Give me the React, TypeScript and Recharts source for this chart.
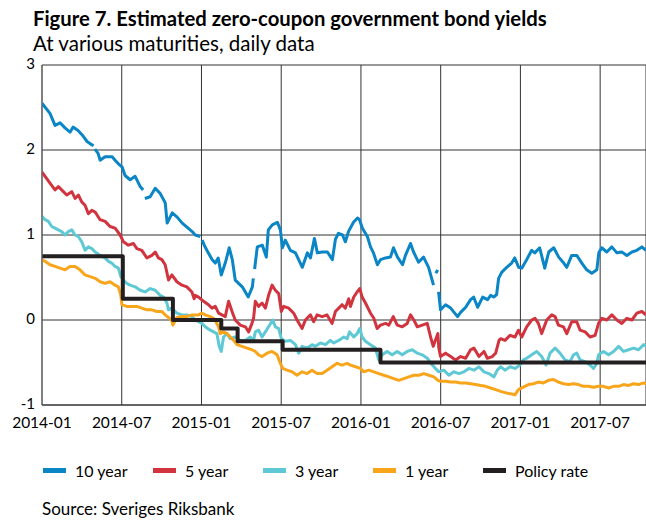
import React from 'react';
import { LineChart, Line, XAxis, YAxis, CartesianGrid } from 'recharts';

// x = months since 2014-01, y = per cent
const tickMonths = [0, 6, 12, 18, 24, 30, 36, 42];
const tickLabels = ['2014-01', '2014-07', '2015-01', '2015-07', '2016-01', '2016-07', '2017-01', '2017-07'];
const yTicks = [-1, 0, 1, 2, 3];

const tenYear: [number, number | null][] = [
  [0, 2.55], [0.6, 2.43], [0.98, 2.29], [1.36, 2.32], [1.73, 2.26], [2.11, 2.21], [2.34, 2.27], [2.71, 2.23], [3.01, 2.18], [3.39, 2.1], [3.77, 2.06], [3.88, 2.05], [3.92, null],
  [3.98, 2.01], [4.22, 1.96], [4.37, 1.88], [4.75, 1.92], [5.28, 1.92], [5.5, 1.88], [5.73, 1.84], [6.03, 1.8], [6.25, 1.7], [6.63, 1.65], [7.01, 1.69], [7.39, 1.57], [7.61, 1.53], [7.68, null],
  [7.74, 1.43], [8.14, 1.45], [8.52, 1.55], [8.89, 1.49], [9.27, 1.38], [9.42, 1.14], [9.8, 1.26], [10.17, 1.21], [10.55, 1.14], [10.93, 1.09], [11.3, 1.04], [11.53, 1.0], [11.91, 0.98], [11.98, null],
  [12.05, 0.94], [12.21, 0.88], [12.51, 0.79], [12.81, 0.71], [13.04, 0.67], [13.26, 0.73], [13.49, 0.53], [13.79, 0.67], [14.09, 0.85], [14.32, 0.71], [14.54, 0.47], [15.07, 0.39], [15.52, 0.27], [15.83, 0.39], [15.9, 0.49], [15.95, null],
  [16.0, 0.6], [16.2, 0.86], [16.58, 0.88], [16.88, 0.74], [17.03, 1.06], [17.33, 1.12], [17.71, 1.15], [17.94, 1.06], [18.09, 0.85], [18.31, 0.94], [18.69, 0.82], [19.07, 0.79], [19.59, 0.62], [19.97, 0.79], [20.2, 0.73], [20.5, 0.96], [20.72, 0.79], [21.1, 0.8], [21.48, 0.8], [21.85, 0.71], [22.08, 0.95], [22.31, 1.02], [22.61, 1.0], [22.83, 0.92], [23.06, 1.04], [23.44, 1.15], [23.74, 1.2], [23.89, 1.18],
  [24.11, 1.08], [24.49, 0.98], [24.72, 0.86], [24.94, 0.79], [25.24, 0.65], [25.47, 0.71], [25.85, 0.73], [26.22, 0.74], [26.45, 0.85], [26.75, 0.74], [27.13, 0.65], [27.35, 0.76], [27.73, 0.9], [27.96, 0.8], [28.33, 0.68], [28.71, 0.74], [29.09, 0.62], [29.39, 0.45], [29.46, 0.41], [29.55, null],
  [29.64, 0.55], [29.77, 0.59], [29.8, null],
  [29.84, 0.33], [29.99, 0.12], [30.37, 0.18], [30.75, 0.14], [31.27, 0.04], [31.5, 0.09], [31.88, 0.15], [32.25, 0.24], [32.48, 0.27], [32.78, 0.15], [33.16, 0.27], [33.53, 0.24], [33.76, 0.29], [33.99, 0.27], [34.21, 0.3], [34.36, 0.49], [34.59, 0.56], [34.97, 0.62], [35.34, 0.67], [35.57, 0.73], [35.87, 0.62],
  [36.1, 0.61], [36.47, 0.71], [36.85, 0.82], [37.08, 0.79], [37.45, 0.85], [37.83, 0.61], [38.13, 0.8], [38.51, 0.85], [38.88, 0.74], [39.26, 0.67], [39.49, 0.62], [39.86, 0.76], [40.24, 0.76], [40.62, 0.67], [40.99, 0.59], [41.37, 0.55], [41.75, 0.59], [41.9, 0.79],
  [42.12, 0.85], [42.5, 0.8], [42.88, 0.86], [43.26, 0.79], [43.63, 0.8], [44.01, 0.76], [44.39, 0.8], [44.76, 0.82], [45.14, 0.86], [45.44, 0.82],
];

const fiveYear: [number, number][] = [
  [0, 1.74], [0.23, 1.69], [0.6, 1.61], [0.98, 1.53], [1.23, 1.57], [1.61, 1.51], [1.86, 1.47], [2.24, 1.51], [2.49, 1.43], [2.74, 1.47], [2.99, 1.39], [3.24, 1.35], [3.49, 1.25], [3.75, 1.29], [4.0, 1.27], [4.37, 1.18], [4.75, 1.16], [5.12, 1.1], [5.5, 1.08], [5.88, 1.0],
  [6.13, 0.92], [6.5, 0.88], [6.88, 0.9], [7.14, 0.84], [7.51, 0.82], [7.89, 0.73], [8.27, 0.76], [8.52, 0.8], [8.76, 0.73], [9.02, 0.71], [9.27, 0.65], [9.52, 0.47], [9.77, 0.53], [10.15, 0.45], [10.53, 0.41], [10.9, 0.39], [11.28, 0.33], [11.45, 0.25],
  [11.53, 0.29], [11.78, 0.27], [12.16, 0.22], [12.53, 0.18], [12.79, 0.14], [13.04, 0.16], [13.29, 0.08], [13.54, 0.06], [13.79, 0.04], [14.04, 0.22], [14.3, 0.1], [14.54, 0], [14.92, -0.06], [15.3, -0.08], [15.55, -0.14], [15.8, -0.04], [15.92, 0.02], [16.05, 0.22], [16.3, 0.16], [16.56, 0.2], [16.81, 0.14], [17.05, 0.29], [17.31, 0.41], [17.56, 0.35], [17.81, 0.31],
  [18.01, 0.1], [18.18, 0.16], [18.56, 0.14], [18.94, 0.08], [19.19, 0], [19.57, -0.1], [19.82, 0], [20.2, 0.06], [20.44, -0.02], [20.7, 0.06], [21.08, 0.04], [21.45, 0.06], [21.83, -0.04], [22.08, 0.1], [22.33, 0.14], [22.58, 0.18], [22.83, 0.14], [23.08, 0.25], [23.21, 0.16], [23.46, 0.27], [23.71, 0.33], [23.91, 0.37],
  [24.09, 0.27], [24.34, 0.2], [24.72, 0.08], [24.97, 0.02], [25.22, -0.1], [25.47, -0.06], [25.85, -0.04], [26.1, -0.06], [26.43, 0.04], [26.73, -0.06], [27.11, -0.08], [27.48, -0.04], [27.73, 0.06], [27.98, 0], [28.24, -0.08], [28.61, -0.06], [28.99, -0.04], [29.24, -0.2], [29.44, -0.31], [29.69, -0.2], [29.79, -0.16],
  [29.86, -0.33], [29.99, -0.43], [30.37, -0.39], [30.75, -0.43], [31.12, -0.47], [31.5, -0.43], [31.88, -0.45], [32.25, -0.35], [32.5, -0.33], [32.88, -0.43], [33.26, -0.37], [33.51, -0.45], [33.89, -0.43], [34.14, -0.39], [34.39, -0.24], [34.51, -0.22], [34.84, -0.24], [35.22, -0.18], [35.59, -0.2], [35.85, -0.12],
  [36.1, -0.2], [36.47, -0.08], [36.85, 0], [37.1, 0.02], [37.35, -0.04], [37.6, -0.16], [37.98, 0], [38.36, 0.06], [38.61, 0.04], [38.86, -0.06], [39.24, -0.08], [39.49, -0.16], [39.86, -0.02], [40.24, -0.02], [40.49, -0.12], [40.87, -0.14], [41.24, -0.2], [41.62, -0.18], [41.88, -0.04],
  [42.13, 0.02], [42.5, 0], [42.88, 0.06], [43.26, 0], [43.63, -0.04], [44.01, 0.02], [44.39, 0], [44.76, 0.08], [45.14, 0.1], [45.44, 0.06],
];

const threeYear: [number, number][] = [
  [0, 1.22], [0.23, 1.18], [0.48, 1.16], [0.73, 1.1], [0.98, 1.08], [1.23, 1.06], [1.48, 1.04], [1.73, 1.0], [1.98, 1.04], [2.24, 1.06], [2.49, 1.0], [2.74, 0.98], [2.99, 0.92], [3.24, 0.82], [3.49, 0.86], [3.75, 0.84], [4.0, 0.8], [4.37, 0.76], [4.75, 0.73], [5.0, 0.69], [5.25, 0.67], [5.5, 0.63], [5.75, 0.61],
  [5.93, 0.51], [6.13, 0.47], [6.38, 0.43], [6.63, 0.41], [7.01, 0.39], [7.39, 0.35], [7.76, 0.33], [8.14, 0.37], [8.52, 0.35], [8.89, 0.29], [9.14, 0.27], [9.4, 0.2], [9.52, 0.12], [9.77, 0.14], [10.15, 0.08], [10.53, 0.06], [10.9, 0.06], [11.28, 0.04],
  [11.53, 0], [11.78, -0.02], [12.03, -0.04], [12.28, -0.08], [12.66, -0.12], [12.91, -0.14], [13.16, -0.16], [13.34, -0.31], [13.49, -0.37], [13.66, -0.2], [13.92, -0.16], [14.17, -0.22], [14.54, -0.2], [14.92, -0.24], [15.3, -0.24], [15.67, -0.2], [15.92, -0.24], [16.05, -0.14], [16.3, -0.12], [16.56, -0.2], [16.81, -0.14], [17.05, -0.08], [17.36, 0], [17.56, -0.08], [17.81, -0.1],
  [18.01, -0.22], [18.31, -0.25], [18.69, -0.24], [19.07, -0.29], [19.32, -0.39], [19.57, -0.31], [19.95, -0.33], [20.32, -0.29], [20.57, -0.31], [20.95, -0.27], [21.33, -0.29], [21.7, -0.24], [21.95, -0.27], [22.33, -0.24], [22.71, -0.2], [22.96, -0.22], [23.14, -0.14], [23.46, -0.2], [23.71, -0.16], [23.91, -0.1],
  [24.09, -0.2], [24.34, -0.25], [24.72, -0.29], [25.09, -0.33], [25.34, -0.47], [25.6, -0.41], [25.97, -0.37], [26.35, -0.41], [26.73, -0.37], [27.11, -0.41], [27.48, -0.37], [27.86, -0.35], [28.24, -0.39], [28.61, -0.41], [28.99, -0.45], [29.37, -0.53], [29.61, -0.57], [29.86, -0.61],
  [30.24, -0.59], [30.62, -0.65], [30.99, -0.61], [31.37, -0.63], [31.75, -0.61], [32.12, -0.57], [32.5, -0.59], [32.88, -0.55], [33.26, -0.61], [33.63, -0.63], [34.01, -0.67], [34.26, -0.59], [34.51, -0.55], [34.84, -0.59], [35.22, -0.55], [35.59, -0.57], [35.97, -0.53],
  [36.22, -0.47], [36.47, -0.45], [36.85, -0.41], [37.23, -0.37], [37.6, -0.43], [37.93, -0.53], [38.23, -0.39], [38.61, -0.33], [38.98, -0.39], [39.36, -0.47], [39.74, -0.49], [39.99, -0.41], [40.24, -0.39], [40.49, -0.47], [40.87, -0.49], [41.24, -0.53], [41.5, -0.57], [41.75, -0.51], [41.88, -0.41],
  [42.25, -0.37], [42.63, -0.41], [43.01, -0.37], [43.39, -0.31], [43.76, -0.37], [44.14, -0.35], [44.52, -0.33], [44.89, -0.35], [45.27, -0.29], [45.45, -0.31],
];

const oneYear: [number, number][] = [
  [0, 0.71], [0.23, 0.69], [0.6, 0.65], [0.98, 0.63], [1.36, 0.61], [1.73, 0.59], [2.11, 0.63], [2.49, 0.63], [2.86, 0.59], [3.24, 0.53], [3.62, 0.51], [4.0, 0.49], [4.37, 0.45], [4.75, 0.43], [5.12, 0.45], [5.5, 0.41], [5.75, 0.39],
  [5.93, 0.29], [6.01, 0.18], [6.38, 0.16], [6.76, 0.16], [7.14, 0.16], [7.51, 0.14], [7.89, 0.12], [8.27, 0.12], [8.64, 0.1], [9.02, 0.1], [9.27, 0.06], [9.52, 0.03], [9.77, -0.01], [9.85, -0.06], [10.15, 0.03], [10.53, 0.04], [10.9, 0.04], [11.28, 0.06],
  [11.53, 0.06], [11.78, 0.06], [12.03, 0.08], [12.28, 0.06], [12.66, 0.04], [12.91, 0.02], [13.09, -0.02], [13.29, -0.08], [13.41, -0.16], [13.66, -0.14], [13.92, -0.16], [14.17, -0.2], [14.42, -0.24], [14.67, -0.29], [15.05, -0.31], [15.43, -0.33], [15.8, -0.35], [16.05, -0.37], [16.3, -0.41], [16.56, -0.43], [16.93, -0.39], [17.31, -0.37], [17.69, -0.41],
  [17.94, -0.51], [18.11, -0.57], [18.44, -0.59], [18.82, -0.61], [19.19, -0.65], [19.57, -0.61], [19.95, -0.63], [20.32, -0.59], [20.7, -0.63], [21.08, -0.63], [21.45, -0.59], [21.83, -0.55], [22.21, -0.51], [22.58, -0.53], [22.96, -0.51], [23.21, -0.53], [23.59, -0.55], [23.97, -0.57],
  [24.21, -0.61], [24.59, -0.59], [24.97, -0.61], [25.34, -0.63], [25.72, -0.65], [26.1, -0.67], [26.47, -0.69], [26.85, -0.71], [27.23, -0.69], [27.6, -0.67], [27.98, -0.65], [28.36, -0.65], [28.73, -0.63], [29.11, -0.65], [29.49, -0.67], [29.79, -0.71],
  [29.99, -0.72], [30.37, -0.72], [30.75, -0.73], [31.12, -0.73], [31.5, -0.74], [31.88, -0.74], [32.25, -0.75], [32.63, -0.76], [33.01, -0.77], [33.38, -0.78], [33.76, -0.8], [34.14, -0.82], [34.51, -0.84], [34.97, -0.86], [35.34, -0.87], [35.59, -0.88], [35.85, -0.82],
  [36.22, -0.79], [36.6, -0.76], [36.98, -0.75], [37.35, -0.73], [37.73, -0.74], [38.11, -0.71], [38.49, -0.7], [38.86, -0.73], [39.24, -0.75], [39.62, -0.76], [39.99, -0.75], [40.37, -0.76], [40.75, -0.78], [41.12, -0.78], [41.5, -0.79], [41.88, -0.78],
  [42.25, -0.78], [42.63, -0.8], [43.01, -0.78], [43.39, -0.78], [43.76, -0.76], [44.14, -0.77], [44.52, -0.75], [44.89, -0.76], [45.27, -0.74], [45.45, -0.75],
];

// Policy rate: [month of change, new rate]
const policyRate: [number, number][] = [
  [0, 0.75], [6.08, 0.25], [9.85, 0], [13.49, -0.1], [14.72, -0.25], [18.11, -0.35], [25.47, -0.5], [45.45, -0.5],
];

const toPoints = (arr: [number, number | null][]) => arr.map(([m, v]) => ({ m, v }));

const series = [
  { name: '10 year', color: '#0a86c6', width: 3, data: toPoints(tenYear), step: false },
  { name: '5 year', color: '#d1343e', width: 3, data: toPoints(fiveYear), step: false },
  { name: '3 year', color: '#5ec9d4', width: 3, data: toPoints(threeYear), step: false },
  { name: '1 year', color: '#f8a51b', width: 3, data: toPoints(oneYear), step: false },
  { name: 'Policy rate', color: '#231f20', width: 4, data: toPoints(policyRate), step: true },
];

const FONT = 'Lato, "Noto Sans", sans-serif';

export default function App() {
  return (
    <div style={{ position: 'absolute', left: 0, top: 0, width: 646, height: 522, background: '#fff', fontFamily: FONT, color: '#000', overflow: 'hidden' }}>
      <div style={{ position: 'absolute', left: 33, top: 6, fontSize: 20.3, fontWeight: 700, whiteSpace: 'nowrap' }}>
        Figure 7. Estimated zero-coupon government bond yields
      </div>
      <div style={{ position: 'absolute', left: 33, top: 31, fontSize: 20.5, whiteSpace: 'nowrap' }}>
        At various maturities, daily data
      </div>
      <div style={{ position: 'absolute', left: 0, top: 0 }}>
        <LineChart width={646} height={440} margin={{ top: 65, right: 0, left: 0, bottom: 0 }}>
          <CartesianGrid stroke="#333" strokeWidth={1} />
          <XAxis
            dataKey="m"
            type="number"
            domain={[0, 45.45]}
            ticks={tickMonths}
            tickFormatter={(v: number) => tickLabels[tickMonths.indexOf(v)] ?? ''}
            allowDataOverflow
            height={35}
            tickSize={0}
            tickMargin={12}
            axisLine={{ stroke: '#333' }}
            tick={{ fill: '#000', fontSize: 15.5, fontFamily: FONT }}
            interval={0}
          />
          <YAxis
            type="number"
            domain={[-1, 3]}
            ticks={yTicks}
            width={42}
            tickSize={0}
            tickMargin={7}
            axisLine={{ stroke: '#666' }}
            tick={{ fill: '#000', fontSize: 15, fontFamily: FONT, dy: -1 }}
            interval={0}
          />
          {series.map((s) => (
            <Line
              key={s.name}
              data={s.data}
              dataKey="v"
              name={s.name}
              type={s.step ? 'stepAfter' : 'linear'}
              stroke={s.color}
              strokeWidth={s.width}
              dot={false}
              activeDot={false}
              isAnimationActive={false}
              connectNulls={false}
              strokeLinejoin="round"
            />
          ))}
        </LineChart>
      </div>
      <div style={{ position: 'absolute', left: 43, top: 461, display: 'flex', fontSize: 16 }}>
        {series.map((s) => (
          <div key={s.name} style={{ width: 110, display: 'flex', alignItems: 'center' }}>
            <span style={{ display: 'inline-block', width: 23, height: 5, background: s.color, marginRight: 9 }} />
            <span style={{ whiteSpace: 'nowrap' }}>{s.name}</span>
          </div>
        ))}
      </div>
      <div style={{ position: 'absolute', left: 42, top: 499, fontSize: 17, lineHeight: '20px', whiteSpace: 'nowrap' }}>
        Source: Sveriges Riksbank
      </div>
    </div>
  );
}
